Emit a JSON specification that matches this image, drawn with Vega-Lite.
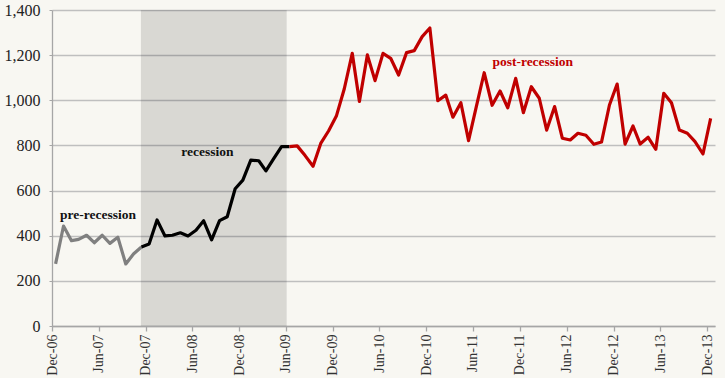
{
  "$schema": "https://vega.github.io/schema/vega-lite/v6.json",
  "width": 663,
  "height": 316,
  "autosize": "none",
  "padding": {"left": 52, "top": 10, "right": 10, "bottom": 52},
  "background": "#F8F7F2",
  "config": {"view": {"stroke": null}, "font": "Liberation Serif"},
  "datasets": {
    "band": [{"start": "2007-11-13", "end": "2009-06-04"}],
    "series": [
      {"month": "2006-12-15", "value": 275, "period": "pre"},
      {"month": "2007-01-15", "value": 443, "period": "pre"},
      {"month": "2007-02-15", "value": 378, "period": "pre"},
      {"month": "2007-03-15", "value": 384, "period": "pre"},
      {"month": "2007-04-15", "value": 402, "period": "pre"},
      {"month": "2007-05-15", "value": 369, "period": "pre"},
      {"month": "2007-06-15", "value": 402, "period": "pre"},
      {"month": "2007-07-15", "value": 366, "period": "pre"},
      {"month": "2007-08-15", "value": 393, "period": "pre"},
      {"month": "2007-09-15", "value": 275, "period": "pre"},
      {"month": "2007-10-15", "value": 319, "period": "pre"},
      {"month": "2007-11-15", "value": 350, "period": "pre"},
      {"month": "2007-11-15", "value": 350, "period": "rec"},
      {"month": "2007-12-15", "value": 363, "period": "rec"},
      {"month": "2008-01-15", "value": 470, "period": "rec"},
      {"month": "2008-02-15", "value": 399, "period": "rec"},
      {"month": "2008-03-15", "value": 402, "period": "rec"},
      {"month": "2008-04-15", "value": 413, "period": "rec"},
      {"month": "2008-05-15", "value": 399, "period": "rec"},
      {"month": "2008-06-15", "value": 424, "period": "rec"},
      {"month": "2008-07-15", "value": 466, "period": "rec"},
      {"month": "2008-08-15", "value": 382, "period": "rec"},
      {"month": "2008-09-15", "value": 467, "period": "rec"},
      {"month": "2008-10-15", "value": 484, "period": "rec"},
      {"month": "2008-11-15", "value": 608, "period": "rec"},
      {"month": "2008-12-15", "value": 646, "period": "rec"},
      {"month": "2009-01-15", "value": 735, "period": "rec"},
      {"month": "2009-02-15", "value": 732, "period": "rec"},
      {"month": "2009-03-15", "value": 687, "period": "rec"},
      {"month": "2009-04-15", "value": 743, "period": "rec"},
      {"month": "2009-05-15", "value": 795, "period": "rec"},
      {"month": "2009-06-15", "value": 795, "period": "rec"},
      {"month": "2009-06-15", "value": 795, "period": "post"},
      {"month": "2009-07-15", "value": 798, "period": "post"},
      {"month": "2009-08-15", "value": 755, "period": "post"},
      {"month": "2009-09-15", "value": 708, "period": "post"},
      {"month": "2009-10-15", "value": 809, "period": "post"},
      {"month": "2009-11-15", "value": 865, "period": "post"},
      {"month": "2009-12-15", "value": 930, "period": "post"},
      {"month": "2010-01-15", "value": 1051, "period": "post"},
      {"month": "2010-02-15", "value": 1208, "period": "post"},
      {"month": "2010-03-15", "value": 995, "period": "post"},
      {"month": "2010-04-15", "value": 1201, "period": "post"},
      {"month": "2010-05-15", "value": 1087, "period": "post"},
      {"month": "2010-06-15", "value": 1208, "period": "post"},
      {"month": "2010-07-15", "value": 1186, "period": "post"},
      {"month": "2010-08-15", "value": 1112, "period": "post"},
      {"month": "2010-09-15", "value": 1211, "period": "post"},
      {"month": "2010-10-15", "value": 1220, "period": "post"},
      {"month": "2010-11-15", "value": 1282, "period": "post"},
      {"month": "2010-12-15", "value": 1320, "period": "post"},
      {"month": "2011-01-15", "value": 998, "period": "post"},
      {"month": "2011-02-15", "value": 1023, "period": "post"},
      {"month": "2011-03-15", "value": 925, "period": "post"},
      {"month": "2011-04-15", "value": 989, "period": "post"},
      {"month": "2011-05-15", "value": 821, "period": "post"},
      {"month": "2011-06-15", "value": 975, "period": "post"},
      {"month": "2011-07-15", "value": 1122, "period": "post"},
      {"month": "2011-08-15", "value": 978, "period": "post"},
      {"month": "2011-09-15", "value": 1041, "period": "post"},
      {"month": "2011-10-15", "value": 967, "period": "post"},
      {"month": "2011-11-15", "value": 1097, "period": "post"},
      {"month": "2011-12-15", "value": 945, "period": "post"},
      {"month": "2012-01-15", "value": 1060, "period": "post"},
      {"month": "2012-02-15", "value": 1009, "period": "post"},
      {"month": "2012-03-15", "value": 868, "period": "post"},
      {"month": "2012-04-15", "value": 972, "period": "post"},
      {"month": "2012-05-15", "value": 832, "period": "post"},
      {"month": "2012-06-15", "value": 824, "period": "post"},
      {"month": "2012-07-15", "value": 854, "period": "post"},
      {"month": "2012-08-15", "value": 845, "period": "post"},
      {"month": "2012-09-15", "value": 805, "period": "post"},
      {"month": "2012-10-15", "value": 815, "period": "post"},
      {"month": "2012-11-15", "value": 979, "period": "post"},
      {"month": "2012-12-15", "value": 1072, "period": "post"},
      {"month": "2013-01-15", "value": 806, "period": "post"},
      {"month": "2013-02-15", "value": 886, "period": "post"},
      {"month": "2013-03-15", "value": 806, "period": "post"},
      {"month": "2013-04-15", "value": 836, "period": "post"},
      {"month": "2013-05-15", "value": 783, "period": "post"},
      {"month": "2013-06-15", "value": 1031, "period": "post"},
      {"month": "2013-07-15", "value": 989, "period": "post"},
      {"month": "2013-08-15", "value": 868, "period": "post"},
      {"month": "2013-09-15", "value": 854, "period": "post"},
      {"month": "2013-10-15", "value": 817, "period": "post"},
      {"month": "2013-11-15", "value": 762, "period": "post"},
      {"month": "2013-12-15", "value": 920, "period": "post"}
    ],
    "labels": [
      {"month": "2007-01-01", "value": 492, "label": "pre-recession", "period": "pre"},
      {"month": "2008-04-19", "value": 771, "label": "recession", "period": "rec"},
      {"month": "2011-08-16", "value": 1168, "label": "post-recession", "period": "post"}
    ]
  },
  "encoding": {
    "x": {
      "field": "month",
      "type": "temporal",
      "title": null,
      "scale": {
        "type": "utc",
        "domain": [
          {"year": 2006, "month": 12, "date": 1, "utc": true},
          {"year": 2014, "month": 1, "date": 1, "utc": true}
        ]
      },
      "axis": {
        "values": [
          {"year": 2006, "month": 12, "date": 1, "utc": true},
          {"year": 2007, "month": 6, "date": 1, "utc": true},
          {"year": 2007, "month": 12, "date": 1, "utc": true},
          {"year": 2008, "month": 6, "date": 1, "utc": true},
          {"year": 2008, "month": 12, "date": 1, "utc": true},
          {"year": 2009, "month": 6, "date": 1, "utc": true},
          {"year": 2009, "month": 12, "date": 1, "utc": true},
          {"year": 2010, "month": 6, "date": 1, "utc": true},
          {"year": 2010, "month": 12, "date": 1, "utc": true},
          {"year": 2011, "month": 6, "date": 1, "utc": true},
          {"year": 2011, "month": 12, "date": 1, "utc": true},
          {"year": 2012, "month": 6, "date": 1, "utc": true},
          {"year": 2012, "month": 12, "date": 1, "utc": true},
          {"year": 2013, "month": 6, "date": 1, "utc": true},
          {"year": 2013, "month": 12, "date": 1, "utc": true}
        ],
        "labelExpr": "utcFormat(datum.value, '%b-%y')",
        "labelAngle": -90,
        "labelFontSize": 14,
        "labelColor": "#333333",
        "labelPadding": 3,
        "labelFlush": false,
        "labelOverlap": false,
        "grid": false,
        "domainColor": "#A6A6A6",
        "domainWidth": 1.3,
        "tickColor": "#A6A6A6",
        "tickSize": 5,
        "tickWidth": 1.3
      }
    }
  },
  "layer": [
    {
      "data": {"name": "band"},
      "mark": {"type": "rect", "color": "#000000", "opacity": 0.125},
      "encoding": {
        "x": {"field": "start", "type": "temporal"},
        "x2": {"field": "end"}
      }
    },
    {
      "data": {"name": "series"},
      "transform": [{"filter": "datum.period === 'pre'"}],
      "mark": {"type": "line", "color": "#808080", "strokeWidth": 3.2, "strokeJoin": "round"},
      "encoding": {
        "y": {
          "field": "value",
          "type": "quantitative",
          "title": null,
          "scale": {"domain": [0, 1400], "nice": false},
          "axis": {
            "values": [0, 200, 400, 600, 800, 1000, 1200, 1400],
            "format": ",d",
            "labelFontSize": 16,
            "labelColor": "#222222",
            "labelPadding": 9,
            "gridColor": "#BFBFBF",
            "gridWidth": 1.3,
            "domainColor": "#A6A6A6",
            "domainWidth": 1.3,
            "tickColor": "#A6A6A6",
            "tickSize": 3
          }
        }
      }
    },
    {
      "data": {"name": "series"},
      "transform": [{"filter": "datum.period === 'rec'"}],
      "mark": {"type": "line", "color": "#000000", "strokeWidth": 3.2, "strokeJoin": "round"},
      "encoding": {"y": {"field": "value", "type": "quantitative"}}
    },
    {
      "data": {"name": "series"},
      "transform": [{"filter": "datum.period === 'post'"}],
      "mark": {"type": "line", "color": "#C00000", "strokeWidth": 3.2, "strokeJoin": "round"},
      "encoding": {"y": {"field": "value", "type": "quantitative"}}
    },
    {
      "data": {"name": "labels"},
      "mark": {"type": "text", "align": "left", "baseline": "middle", "fontWeight": "bold", "fontSize": 13.5, "font": "Liberation Serif"},
      "encoding": {
        "y": {"field": "value", "type": "quantitative"},
        "text": {"field": "label"},
        "color": {
          "field": "period",
          "type": "nominal",
          "scale": {"domain": ["pre", "rec", "post"], "range": ["#111111", "#111111", "#C00000"]},
          "legend": null
        }
      }
    }
  ]
}
